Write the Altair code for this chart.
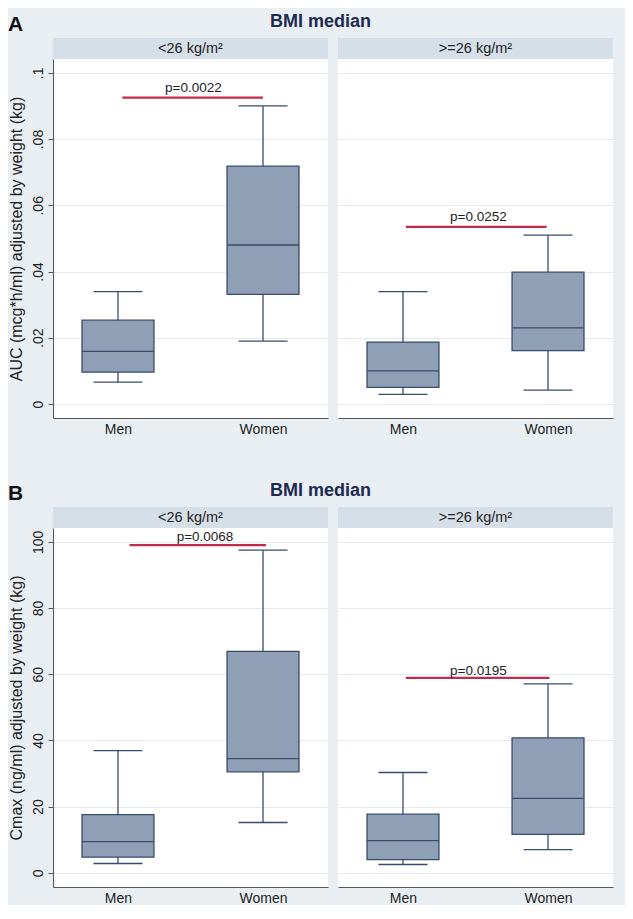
import altair as alt
import pandas as pd

FONT = "Liberation Sans"
BG = "#e9eef2"
HDR = "#d6dfe8"
FILL = "#8f9fb6"
STROKE = "#3a4b6c"
RED = "#c42a4b"
NAVY = "#1d2b50"
GRID = "#e6eaee"
AX = "#555555"
TXT = "#222222"

# ---------------- data ----------------
groups = ["<26 kg/m²", ">=26 kg/m²"]
sexes = ["Men", "Women"]

# order: (<26 Men, <26 Women, >=26 Men, >=26 Women)
auc_lo = [0.0066, 0.0190, 0.0029, 0.0042]
auc_q1 = [0.0096, 0.0331, 0.0050, 0.0161]
auc_med = [0.0159, 0.0480, 0.0100, 0.0230]
auc_q3 = [0.0253, 0.0718, 0.0187, 0.0398]
auc_hi = [0.0339, 0.0900, 0.0339, 0.0510]

cmax_lo = [2.8, 15.2, 2.5, 7.0]
cmax_q1 = [4.7, 30.5, 4.0, 11.6]
cmax_med = [9.4, 34.5, 9.7, 22.5]
cmax_q3 = [17.6, 66.9, 17.7, 40.8]
cmax_hi = [36.9, 97.5, 30.3, 57.1]

# p-value annotations per BMI group
auc_p = ["p=0.0022", "p=0.0252"]
auc_p_line = [0.0925, 0.0535]
auc_p_text = [0.0954, 0.0564]
auc_p_x0 = [0.03, 0.02]
auc_p_x1 = [1.00, 0.99]
auc_p_tx = [0.52, 0.52]

cmax_p = ["p=0.0068", "p=0.0195"]
cmax_p_line = [99.0, 58.9]
cmax_p_text = [101.4, 61.0]
cmax_p_x0 = [0.08, 0.02]
cmax_p_x1 = [1.02, 1.01]
cmax_p_tx = [0.60, 0.52]

auc_ticks = [0, 0.02, 0.04, 0.06, 0.08, 0.1]
cmax_ticks = [0, 20, 40, 60, 80, 100]

W, H, HH = 275, 359, 21
XDOM = [-0.448, 1.448]


def stats_frame(lo, q1, med, q3, hi):
    rows = []
    k = 0
    for g in groups:
        for s in sexes:
            rows.append(dict(group=g, sex=s, xpos=float(sexes.index(s)),
                             lo=lo[k], q1=q1[k], med=med[k], q3=q3[k], hi=hi[k]))
            k += 1
    return pd.DataFrame(rows)


def panel(df, plabels, pline, ptext, px0, px1, ptx, ydom, yticks, ytitle, labexpr, letter):
    cols = []
    for gi, g in enumerate(groups):
        sub = df[df.group == g]
        pdf = pd.DataFrame(dict(label=[plabels[gi]], py=[pline[gi]], ty=[ptext[gi]],
                                px0=[px0[gi]], px1=[px1[gi]], tx=[ptx[gi]]))
        yscale = alt.Scale(domain=ydom, nice=False, zero=False)
        xscale = alt.Scale(domain=XDOM, nice=False, zero=False)
        if gi == 0:
            yaxis = alt.Axis(values=yticks, labelExpr=labexpr, labelAngle=-90,
                             labelAlign="center", labelBaseline="bottom",
                             labelFontSize=14, labelColor=TXT, labelPadding=3,
                             labelOverlap=False, labelFlush=False,
                             tickSize=5, tickColor=AX, domainColor=AX,
                             grid=True, gridColor=GRID,
                             titleFontSize=16, titleFontWeight="normal",
                             titleColor=TXT, titlePadding=7)
            yt = ytitle
        else:
            yaxis = alt.Axis(values=yticks, labels=False, ticks=False, domain=False,
                             grid=True, gridColor=GRID)
            yt = None
        xaxis = alt.Axis(values=[0, 1],
                         labelExpr=f"['{sexes[0]}','{sexes[1]}'][datum.value]",
                         grid=False, ticks=False, domainColor=AX,
                         labelFontSize=14, labelColor=TXT, labelPadding=4,
                         labelFlush=False)

        def X(f):
            return alt.X(f, type="quantitative", scale=xscale, axis=xaxis, title=None)

        def Y(f):
            return alt.Y(f, type="quantitative", scale=yscale, axis=yaxis, title=yt)

        base = alt.Chart(sub).transform_calculate(
            b0="datum.xpos - 0.248", b1="datum.xpos + 0.248",
            c0="datum.xpos - 0.169", c1="datum.xpos + 0.169")

        whisk = base.mark_rule(color=STROKE, strokeWidth=1.3).encode(
            x=X("xpos"), y=Y("lo"), y2=alt.Y2("hi"))
        cap_lo = base.mark_rule(color=STROKE, strokeWidth=1.3).encode(
            x=X("c0"), x2=alt.X2("c1"), y=Y("lo"))
        cap_hi = base.mark_rule(color=STROKE, strokeWidth=1.3).encode(
            x=X("c0"), x2=alt.X2("c1"), y=Y("hi"))
        box = base.mark_rect(fill=FILL, stroke=STROKE, strokeWidth=1.3).encode(
            x=X("b0"), x2=alt.X2("b1"), y=Y("q1"), y2=alt.Y2("q3"))
        med = base.mark_rule(color=STROKE, strokeWidth=1.3).encode(
            x=X("b0"), x2=alt.X2("b1"), y=Y("med"))

        pbase = alt.Chart(pdf)
        pl = pbase.mark_rule(color=RED, strokeWidth=2.2).encode(
            x=X("px0"), x2=alt.X2("px1"), y=Y("py"))
        pt = pbase.mark_text(fontSize=13.5, color=TXT, font=FONT, baseline="middle").encode(
            x=X("tx"), y=Y("ty"), text="label:N")

        plot = alt.layer(whisk, cap_lo, cap_hi, box, med, pl, pt).properties(
            width=W, height=H, view=alt.ViewBackground(fill="white", stroke=None))

        hdr = alt.Chart(pd.DataFrame({"label": [g]})).mark_text(
            fontSize=14.5, color=TXT, font=FONT).encode(text="label:N").properties(
            width=W, height=HH, view=alt.ViewBackground(fill=HDR, stroke=None))

        cols.append(alt.vconcat(hdr, plot, spacing=0))

    inner = alt.hconcat(*cols, spacing=10).properties(
        title=alt.Title("BMI median", fontSize=18, fontWeight="bold", color=NAVY,
                        font=FONT, anchor="middle", frame="bounds", offset=7, dx=10))
    return alt.vconcat(inner).properties(
        title=alt.Title(letter, fontSize=21, fontWeight="bold", color="#111111",
                        font=FONT, anchor="start", frame="bounds", offset=0, dy=22))


auc_df = stats_frame(auc_lo, auc_q1, auc_med, auc_q3, auc_hi)
cmax_df = stats_frame(cmax_lo, cmax_q1, cmax_med, cmax_q3, cmax_hi)

auc_lab = "datum.value == 0 ? '0' : slice(format(datum.value, '.2~f'), 1)"
cmax_lab = "format(datum.value, 'd')"

pA = panel(auc_df, auc_p, auc_p_line, auc_p_text, auc_p_x0, auc_p_x1, auc_p_tx,
           [-0.00423, 0.10417], auc_ticks, "AUC (mcg*h/ml) adjusted by weight (kg)",
           auc_lab, "A")
pB = panel(cmax_df, cmax_p, cmax_p_line, cmax_p_text, cmax_p_x0, cmax_p_x1, cmax_p_tx,
           [-4.3, 104.2], cmax_ticks, "Cmax (ng/ml) adjusted by weight (kg)",
           cmax_lab, "B")

chart = alt.vconcat(pA, pB, spacing=46).properties(
    background=BG,
    padding={"left": 0, "top": 5, "right": 12, "bottom": 0},
).configure_view(stroke=None).configure(font=FONT)

chart.save("out.html", embed_options={"renderer": "svg", "actions": False})
